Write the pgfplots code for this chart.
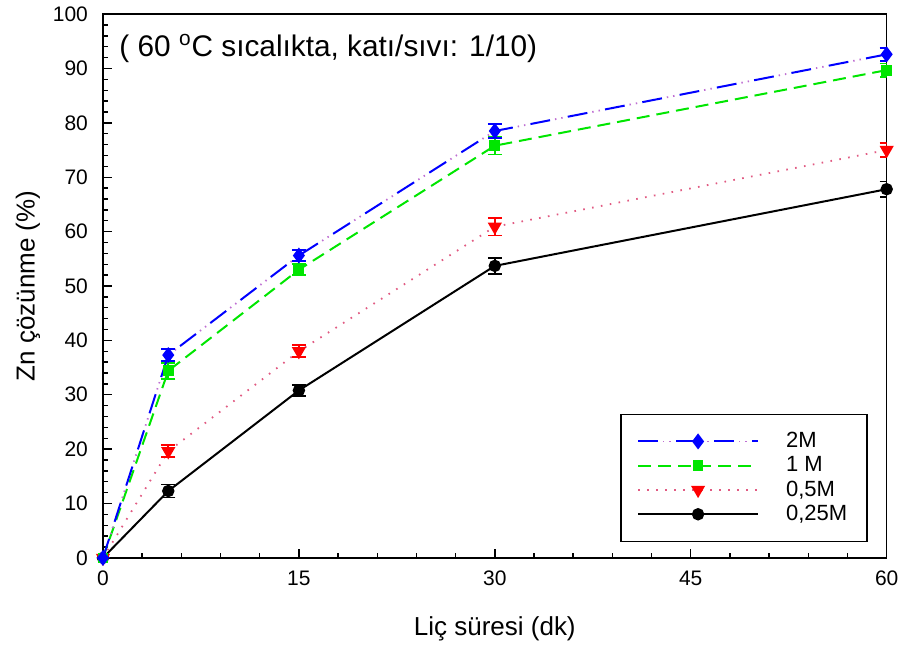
\documentclass[border=0pt]{standalone}
\usepackage{fontspec}
\setmainfont{Liberation Sans}
\usepackage{pgfplots}
\pgfplotsset{compat=1.18}
\definecolor{cblue}{RGB}{0,0,255}
\definecolor{cviolet}{RGB}{190,110,210}
\definecolor{cgreen}{RGB}{0,230,0}
\definecolor{cred}{RGB}{255,0,0}
\definecolor{cpink}{RGB}{225,90,130}
\pgfplotsset{
    twomleg/.style={legend image code/.code={
        \draw[cviolet, line width=0.9pt, dash pattern=on 0pt off 12.5pt on 0.7pt off 2.5pt on 0.7pt off 2.6pt] (0pt,0pt) -- (60pt,0pt);
        \draw[##1, mark=none] (0pt,0pt) -- (60pt,0pt);
        \draw[##1] plot coordinates {(30pt,0pt)};
        \path[draw=none] (0pt,0pt) -- (72pt,0pt);}},
}
\begin{document}
\begin{tikzpicture}
\begin{axis}[
    width=392pt, height=272pt, scale only axis,
    xmin=0, xmax=60, ymin=0, ymax=100,
    xtick={0,15,30,45,60}, ytick={0,10,...,100},
    minor x tick num=4, minor y tick num=4,
    tick align=inside, tick pos=left,
    major tick length=4.5pt, minor tick length=2.5pt,
    axis line style={line width=0.8pt},
    every tick/.style={black, line width=0.7pt},
    /pgf/number format/assume math mode=true,
    ticklabel style={font=\fontsize{10.5}{12}\selectfont},
    xticklabel style={yshift=-3pt},
    yticklabel style={xshift=-4pt},
    xlabel={Liç süresi (dk)},
    ylabel={Zn çözünme (\%)},
    label style={font=\fontsize{13}{15}\selectfont},
    xlabel style={at={(axis description cs:0.5,-0.1305)}, anchor=center},
    ylabel style={at={(axis description cs:-0.0957,0.5)}, anchor=center},
    reverse legend,
    legend cell align=left,
    legend style={at={(rel axis cs:0.976,0.029)}, anchor=south east,
        draw=black, line width=0.7pt, font=\fontsize{11}{12}\selectfont,
        inner xsep=8pt, inner ysep=7pt, row sep=-1pt},
    legend image code/.code={
        \draw[#1, mark=none] (0pt,0pt) -- (60pt,0pt);
        \draw[#1] plot coordinates {(30pt,0pt)};
        \path[draw=none] (0pt,0pt) -- (72pt,0pt);},
    error bars/y dir=both, error bars/y explicit,
]

% 0,25M
\addplot[black, line width=1pt, mark=*, mark size=2.6pt,
    error bars/error bar style={line width=0.9pt, black},
    error bars/error mark options={rotate=90, mark size=3.5pt, line width=0.9pt, black}]
    coordinates {(0,0) +- (0,0) (5,12.3) +- (0,1.2) (15,30.8) +- (0,1.0) (30,53.7) +- (0,1.5) (60,67.8) +- (0,1.4)};
\addlegendentry{0,25M}

% 0,5M
\addplot[cpink, line width=0.9pt, dash pattern=on 0.8pt off 3.7pt,
    mark=triangle*, mark size=3.2pt, mark options={rotate=180, solid, cred, fill=cred},
    error bars/error bar style={line width=0.9pt, cred, solid},
    error bars/error mark options={rotate=90, mark size=3.5pt, line width=0.9pt, cred, solid}]
    coordinates {(0,0) +- (0,0) (5,19.6) +- (0,1.1) (15,38.0) +- (0,1.1) (30,60.9) +- (0,1.6) (60,75.0) +- (0,1.3)};
\addlegendentry{0,5M}

% 1 M
\addplot[cgreen, line width=1pt, dash pattern=on 6.5pt off 3.5pt,
    mark=square*, mark size=2.2pt, mark options={solid},
    error bars/error bar style={line width=0.9pt, cgreen, solid},
    error bars/error mark options={rotate=90, mark size=3.5pt, line width=0.9pt, cgreen, solid}]
    coordinates {(0,0) +- (0,0) (5,34.4) +- (0,1.5) (15,53.0) +- (0,1.0) (30,75.8) +- (0,1.6) (60,89.7) +- (0,1.2)};
\addlegendentry{1 M}

% 2M: violet dots between the blue dashes
\addplot[cviolet, line width=0.9pt, forget plot,
    dash pattern=on 0pt off 12.5pt on 0.7pt off 2.5pt on 0.7pt off 2.6pt]
    coordinates {(0,0) (5,37.3) (15,55.6) (30,78.5) (60,92.6)};
\addplot[cblue, line width=1pt, dash pattern=on 10pt off 9pt,
    mark=diamond*, mark size=3.2pt, mark options={solid},
    error bars/error bar style={line width=0.9pt, cblue, solid},
    error bars/error mark options={rotate=90, mark size=3.5pt, line width=0.9pt, cblue, solid},
    twomleg]
    coordinates {(0,0) +- (0,0) (5,37.3) +- (0,1.15) (15,55.6) +- (0,1.0) (30,78.5) +- (0,1.35) (60,92.6) +- (0,1.2)};
\addlegendentry{2M}

\node[anchor=west, font=\fontsize{14.9}{17}\selectfont] at (rel axis cs:0.012,0.937)
    {( 60 \textsuperscript{o}C sıcalıkta, katı/sıvı: 1/10)};
\end{axis}
% fix the margins round the axis
\path (current axis.south west) ++(-51.5pt,-45.5pt);
\path (current axis.north east) ++(9pt,6.5pt);
\end{tikzpicture}
\end{document}
